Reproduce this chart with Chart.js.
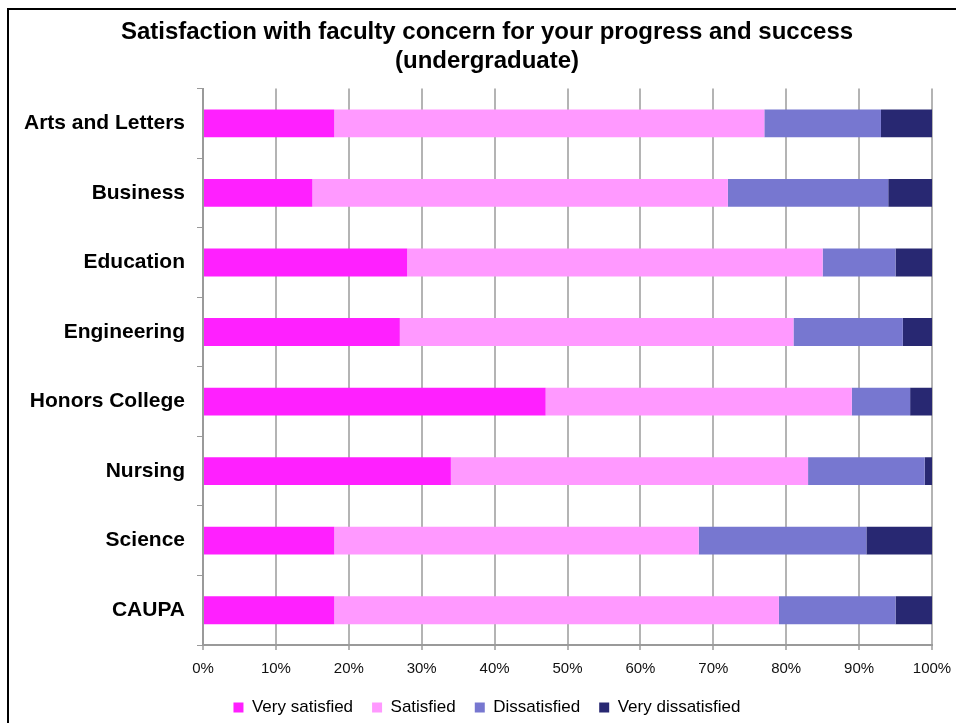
<!doctype html>
<html>
<head>
<meta charset="utf-8">
<title>Satisfaction with faculty concern</title>
<script src="https://cdn.jsdelivr.net/npm/chart.js@4.4.1/dist/chart.umd.min.js"></script>
<style>
  html, body { margin: 0; padding: 0; background: #ffffff; overflow: hidden; }
  #wrap { position: relative; width: 956px; height: 723px; }
  #frame {
    position: absolute; left: 7px; top: 8px; width: 1000px; height: 800px;
    border-left: 2px solid #000; border-top: 2px solid #000;
    pointer-events: none;
  }
  canvas { position: absolute; left: 0; top: 0; }
</style>
</head>
<body>
<div id="wrap">
  <canvas id="chart" width="956" height="723"></canvas>
  <div id="frame"></div>
</div>
<script>
  // values (percent of respondents)
  const colleges = ['Arts and Letters', 'Business', 'Education', 'Engineering', 'Honors College', 'Nursing', 'Science', 'CAUPA'];
  const verySatisfied    = [18, 15, 28, 27, 47, 34, 18, 18];
  const satisfied        = [59, 57, 57, 54, 42, 49, 50, 61];
  const dissatisfied     = [16, 22, 10, 15,  8, 16, 23, 16];
  const veryDissatisfied = [ 7,  6,  5,  4,  3,  1,  9,  5];
  const xTicks = [0, 10, 20, 30, 40, 50, 60, 70, 80, 90, 100];

  const FONT = 'Arial, "Liberation Sans", Helvetica, sans-serif';

  const mk = (label, data, color) => ({
    label, data, backgroundColor: color, borderWidth: 0,
    barPercentage: 0.4, categoryPercentage: 1.0
  });

  new Chart(document.getElementById('chart'), {
    type: 'bar',
    data: {
      labels: colleges,
      datasets: [
        mk('Very satisfied', verySatisfied, '#ff20ff'),
        mk('Satisfied', satisfied, '#ff99ff'),
        mk('Dissatisfied', dissatisfied, '#7777d0'),
        mk('Very dissatisfied', veryDissatisfied, '#282872')
      ]
    },
    options: {
      indexAxis: 'y',
      responsive: false,
      animation: false,
      layout: { padding: { left: 18, right: 0, top: 0, bottom: -3 } },
      plugins: {
        title: {
          display: true,
          text: ['Satisfaction with faculty concern for your progress and success', '(undergraduate)'],
          color: '#000',
          font: { family: FONT, size: 24, weight: 'bold', lineHeight: 1.2 },
          padding: { top: 18, bottom: 13 }
        },
        legend: {
          position: 'bottom',
          labels: {
            color: '#000',
            boxWidth: 10, boxHeight: 10,
            padding: 19,
            font: { family: FONT, size: 17 }
          }
        },
        tooltip: { enabled: false }
      },
      scales: {
        x: {
          stacked: true,
          min: 0, max: 100,
          afterBuildTicks: (axis) => { axis.ticks = xTicks.map(v => ({ value: v })); },
          afterFit: (axis) => { axis.height = 35; axis.paddingRight = 24; },
          ticks: {
            color: '#111',
            padding: 10,
            maxRotation: 0,
            font: { family: FONT, size: 15 },
            callback: (v) => v + '%'
          },
          grid: { color: '#b4b4b4', lineWidth: 2, tickLength: 5 },
          border: { color: '#9a9a9a', width: 2 }
        },
        y: {
          stacked: true,
          afterFit: (axis) => { axis.width = 185; },
          ticks: {
            color: '#000',
            padding: 12,
            font: { family: FONT, size: 21, weight: 'bold' }
          },
          grid: { offset: true, drawOnChartArea: false, color: '#9a9a9a', lineWidth: 1, tickLength: 6 },
          border: { color: '#9a9a9a', width: 2 }
        }
      }
    }
  });
</script>
</body>
</html>
